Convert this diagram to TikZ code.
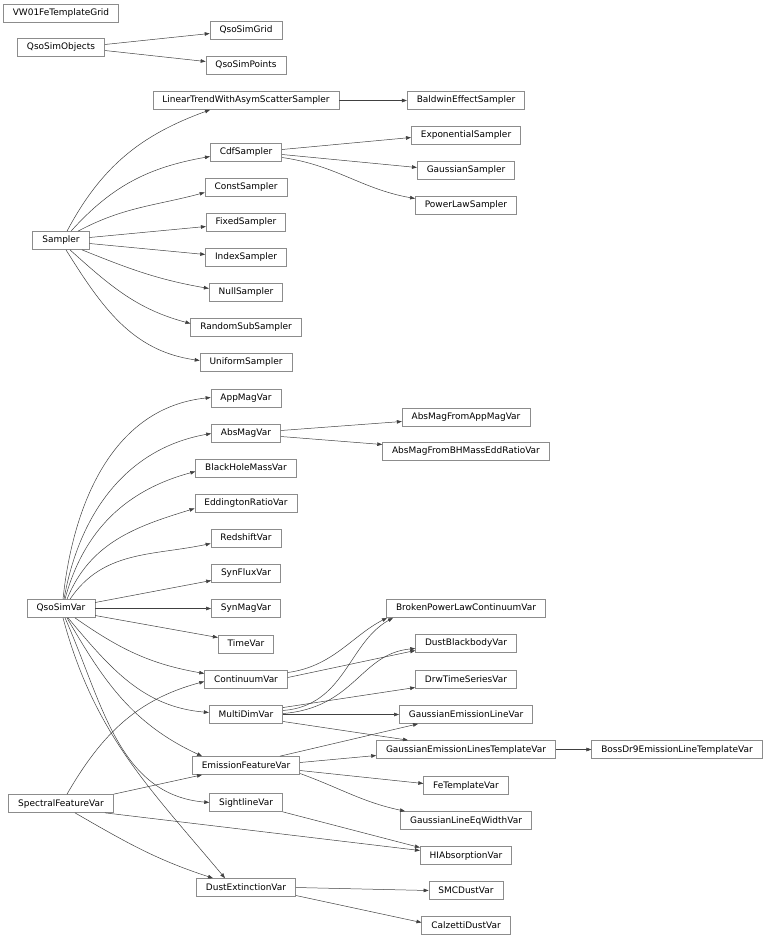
\documentclass[tikz,border=0pt]{standalone}
\usepackage{fontspec}
\setmainfont{DejaVu Sans}
\usetikzlibrary{arrows.meta}
\definecolor{boxgray}{HTML}{8C8C8C}
\definecolor{edgegray}{HTML}{404040}
\tikzset{
  cls/.style={draw=boxgray, line width=0.7pt, minimum height=18bp, inner xsep=9.5bp, inner ysep=0pt,
    text height=7pt, text depth=2pt, font=\fontsize{9}{11}\selectfont, fill=white},
  inh/.style={draw=edgegray, line width=0.5pt, -{Triangle[length=5pt,width=3.6pt]}}
}
\begin{document}
\begin{tikzpicture}[x=1bp,y=1bp]
\useasboundingbox (0,0) rectangle (768,-938);
% nodes
\node[cls] (VW) at (61,-13.5) {VW01FeTemplateGrid};
\node[cls] (QSO) at (61,-47.5) {QsoSimObjects};
\node[cls] (QSG) at (246,-30.5) {QsoSimGrid};
\node[cls] (QSP) at (246,-65.5) {QsoSimPoints};
\node[cls] (LTS) at (246,-100.5) {LinearTrendWithAsymScatterSampler};
\node[cls] (BES) at (466,-100.5) {BaldwinEffectSampler};
\node[cls] (CDF) at (246,-152.5) {CdfSampler};
\node[cls] (EXS) at (466,-135.5) {ExponentialSampler};
\node[cls] (GAS) at (466,-170.5) {GaussianSampler};
\node[cls] (PLS) at (466,-205.5) {PowerLawSampler};
\node[cls] (CSS) at (246,-187.5) {ConstSampler};
\node[cls] (FXS) at (246,-222.5) {FixedSampler};
\node[cls] (IXS) at (246,-257.5) {IndexSampler};
\node[cls] (NLS) at (246,-292.5) {NullSampler};
\node[cls] (RSS) at (246,-327.5) {RandomSubSampler};
\node[cls] (UFS) at (246,-362.5) {UniformSampler};
\node[cls] (SMP) at (61,-240.5) {Sampler};
\node[cls] (APM) at (246,-398.5) {AppMagVar};
\node[cls] (ABM) at (246,-433.5) {AbsMagVar};
\node[cls] (AFA) at (466,-417.5) {AbsMagFromAppMagVar};
\node[cls] (AFB) at (466,-451.5) {AbsMagFromBHMassEddRatioVar};
\node[cls] (BHM) at (246,-468.5) {BlackHoleMassVar};
\node[cls] (EDR) at (246,-503.5) {EddingtonRatioVar};
\node[cls] (RSV) at (246,-538.5) {RedshiftVar};
\node[cls] (SFV) at (246,-573.5) {SynFluxVar};
\node[cls] (SMV) at (246,-608.5) {SynMagVar};
\node[cls] (TMV) at (246,-644.5) {TimeVar};
\node[cls] (QSV) at (61,-608.5) {QsoSimVar};
\node[cls] (CNV) at (246,-679.5) {ContinuumVar};
\node[cls] (MDV) at (246,-714.5) {MultiDimVar};
\node[cls] (EFV) at (246,-765.5) {EmissionFeatureVar};
\node[cls] (SLV) at (246,-802.5) {SightlineVar};
\node[cls] (DEV) at (246,-887.5) {DustExtinctionVar};
\node[cls] (SPF) at (61,-803.5) {SpectralFeatureVar};
\node[cls] (BPL) at (466,-608.5) {BrokenPowerLawContinuumVar};
\node[cls] (DBB) at (466,-643.5) {DustBlackbodyVar};
\node[cls] (DRW) at (466,-679.5) {DrwTimeSeriesVar};
\node[cls] (GEL) at (466,-714.5) {GaussianEmissionLineVar};
\node[cls] (GLT) at (466,-749.5) {GaussianEmissionLinesTemplateVar};
\node[cls] (BOS) at (677,-749.5) {BossDr9EmissionLineTemplateVar};
\node[cls] (FET) at (466,-785.5) {FeTemplateVar};
\node[cls] (GEW) at (466,-820.5) {GaussianLineEqWidthVar};
\node[cls] (HIA) at (466,-855.5) {HIAbsorptionVar};
\node[cls] (SMC) at (466,-890.5) {SMCDustVar};
\node[cls] (CAL) at (466,-925.5) {CalzettiDustVar};
% edges: QsoSimObjects
\draw[inh] ([yshift=3bp]QSO.east) -- ([yshift=-3bp]QSG.west);
\draw[inh] ([yshift=-3bp]QSO.east) -- ([yshift=4bp]QSP.west);
% Sampler
\draw[inh] ([xshift=6bp]SMP.north) to[out=62,in=200] ([xshift=-36bp]LTS.south);
\draw[inh] ([xshift=10bp]SMP.north) to[out=48,in=190] ([yshift=-4bp]CDF.west);
\draw[inh] ([xshift=17bp]SMP.north) to[out=28,in=195] ([yshift=-5bp]CSS.west);
\draw[inh] ([yshift=3bp]SMP.east) -- ([yshift=-4bp]FXS.west);
\draw[inh] ([yshift=-3bp]SMP.east) -- ([yshift=3bp]IXS.west);
\draw[inh] ([xshift=21bp]SMP.south) to[out=-22,in=170] ([yshift=4bp]NLS.west);
\draw[inh] ([xshift=9bp]SMP.south) to[out=-42,in=165] ([yshift=4bp]RSS.west);
\draw[inh] ([xshift=5bp]SMP.south) to[out=-58,in=172] ([yshift=2bp]UFS.west);
\draw[inh] (LTS.east) -- (BES.west);
\draw[inh] ([yshift=3bp]CDF.east) -- ([yshift=-2bp]EXS.west);
\draw[inh] ([yshift=-2bp]CDF.east) -- ([yshift=3bp]GAS.west);
\draw[inh] ([yshift=-5bp]CDF.east) to[out=-8,in=170] ([yshift=7bp]PLS.west);
% QsoSimVar
\draw[inh] ([xshift=2bp]QSV.north) to[out=84,in=186] ([yshift=1bp]APM.west);
\draw[inh] ([xshift=3bp]QSV.north) to[out=80,in=190] (ABM.west);
\draw[inh] ([xshift=4bp]QSV.north) to[out=75,in=195] ([yshift=-3bp]BHM.west);
\draw[inh] ([xshift=6bp]QSV.north) to[out=68,in=197] ([yshift=-5bp]EDR.west);
\draw[inh] ([xshift=9bp]QSV.north) to[out=56,in=192] ([yshift=-5bp]RSV.west);
\draw[inh] ([yshift=6bp]QSV.east) -- ([yshift=-7bp]SFV.west);
\draw[inh] (QSV.east) -- (SMV.west);
\draw[inh] ([yshift=-7bp]QSV.east) -- ([yshift=7bp]TMV.west);
\draw[inh] ([xshift=14bp]QSV.south) to[out=-35,in=170] ([yshift=6bp]CNV.west);
\draw[inh] ([xshift=7bp]QSV.south) to[out=-50,in=175] ([yshift=2bp]MDV.west);
\draw[inh] ([xshift=6bp]QSV.south) to[out=-60,in=155] ([xshift=-44bp]EFV.north);
\draw[inh] ([xshift=4bp]QSV.south) to[out=-66,in=175] (SLV.west);
\draw[inh] ([xshift=2bp]QSV.south) to[out=-75,in=130] ([xshift=-21bp]DEV.north);
\draw[inh] ([yshift=3bp]ABM.east) -- ([yshift=-4bp]AFA.west);
\draw[inh] ([yshift=-3bp]ABM.east) -- ([yshift=7bp]AFB.west);
% SpectralFeatureVar
\draw[inh] ([xshift=6bp]SPF.north) to[out=60,in=195] ([yshift=-2bp]CNV.west);
\draw[inh] (SPF.north east) -- ([xshift=-44bp]EFV.south);
\draw[inh] ([xshift=44bp]SPF.south) -- ([yshift=5bp]HIA.west);
\draw[inh] ([xshift=14bp]SPF.south) to[out=-30,in=162] ([xshift=-33bp]DEV.north);
\draw[inh] (SLV.south east) -- ([yshift=8bp]HIA.west);
% Continuum and MultiDim
\draw[inh] ([yshift=7bp]CNV.east) .. controls +(45,6) and +(-35,-18) .. ([xshift=-79bp]BPL.south);
\draw[inh] ([yshift=2bp]CNV.east) -- ([yshift=-7bp]DBB.west);
\draw[inh] ([yshift=7bp]MDV.east) -- ([yshift=-8bp]DRW.west);
\draw[inh] ([yshift=4bp]MDV.east) .. controls +(62,5) and +(-45,-25) .. ([xshift=-73bp]BPL.south);
\draw[inh] ([yshift=1bp]MDV.east) .. controls +(72,6) and +(-55,-5) .. ([yshift=-5bp]DBB.west);
\draw[inh] (MDV.east) -- (GEL.west);
\draw[inh] ([yshift=-7bp]MDV.east) -- ([xshift=-58bp]GLT.north);
% EmissionFeatureVar
\draw[inh] ([xshift=34bp]EFV.north) -- ([xshift=-48bp]GEL.south);
\draw[inh] ([yshift=3bp]EFV.east) -- ([yshift=-6bp]GLT.west);
\draw[inh] ([yshift=-5bp]EFV.east) -- ([yshift=2bp]FET.west);
\draw[inh] ([yshift=-8bp]EFV.east) to[out=-20,in=168] ([xshift=-61bp]GEW.north);
\draw[inh] (GLT.east) -- (BOS.west);
% DustExtinction
\draw[inh] (DEV.east) -- (SMC.west);
\draw[inh] ([yshift=-8bp]DEV.east) -- ([yshift=3bp]CAL.west);
\end{tikzpicture}
\end{document}
